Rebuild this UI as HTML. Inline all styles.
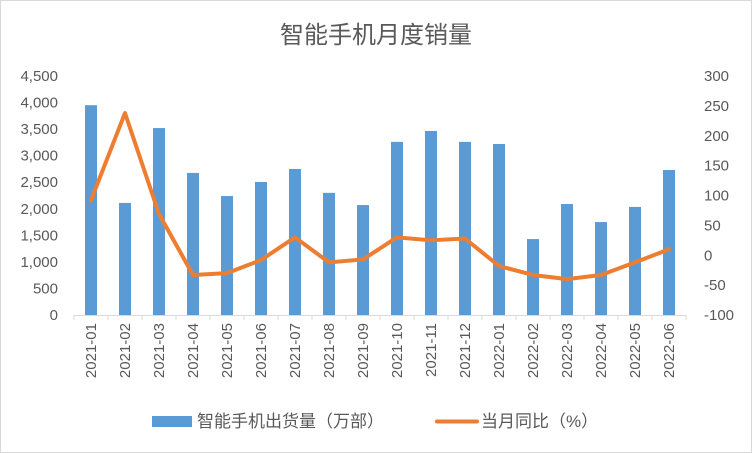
<!DOCTYPE html>
<html><head><meta charset="utf-8"><style>
body{margin:0;background:#fff}
svg{display:block;font-family:"Liberation Sans","Noto Sans CJK SC",sans-serif}
</style></head><body>
<svg id="c" width="752" height="453">
<rect x="0.5" y="0.5" width="751" height="452" fill="#fff" stroke="#d9d9d9"/>
<text x="376" y="43" text-anchor="middle" font-size="24" fill="#595959">智能手机月度销量</text>
<g id="g"></g>
<rect x="152" y="416" width="40" height="11" fill="#5B9BD5"/>
<text x="197" y="427" font-size="17" fill="#595959">智能手机出货量（万部）</text>
<line x1="437" y1="421.5" x2="477" y2="421.5" stroke="#ED7D31" stroke-width="4" stroke-linecap="round"/>
<text x="481" y="427" font-size="17" fill="#595959">当月同比（%）</text>
</svg>
<script>
const categories=["2021-01","2021-02","2021-03","2021-04","2021-05","2021-06","2021-07","2021-08","2021-09","2021-10","2021-11","2021-12","2022-01","2022-02","2022-03","2022-04","2022-05","2022-06"];
const shipments=[3950,2110,3520,2675,2240,2505,2750,2300,2070,3260,3465,3260,3220,1430,2090,1750,2035,2730];
const yoy=[92,238,69,-33,-30,-8,30,-12,-7,30,25,28,-18,-33,-40,-33,-12,10];
const leftTicks=[0,500,1000,1500,2000,2500,3000,3500,4000,4500];
const rightTicks=[-100,-50,0,50,100,150,200,250,300];
const NS="http://www.w3.org/2000/svg";
const g=document.getElementById('g');
const x0=74,x1=686,yTop=76,yBot=315;
const step=(x1-x0)/categories.length;
const xc=i=>x0+step*(i+0.5);
const yL=v=>yBot-(v/4500)*(yBot-yTop);
const yR=v=>yBot-((v+100)/400)*(yBot-yTop);
function mk(t,a){const e=document.createElementNS(NS,t);for(const k in a)e.setAttribute(k,a[k]);g.appendChild(e);return e;}
leftTicks.forEach(v=>{const t=mk('text',{x:58,y:yL(v)+5,'text-anchor':'end','font-size':15,fill:'#595959'});t.textContent=v.toLocaleString('en-US');

});
rightTicks.forEach(v=>{const t=mk('text',{x:704,y:yR(v)+5,'font-size':15,fill:'#595959'});t.textContent=v;

});
shipments.forEach((v,i)=>{const r=mk('rect',{x:xc(i)-6,y:yL(v),width:12,height:yBot-yL(v),fill:'#5B9BD5'});

});
const ax=mk('line',{x1:x0,y1:yBot+0.5,x2:x1,y2:yBot+0.5,stroke:'#d9d9d9'});


for(let i=0;i<=categories.length;i++){const tk=mk('line',{x1:x0+step*i,y1:yBot,x2:x0+step*i,y2:yBot+5,stroke:'#d9d9d9'});

}
categories.forEach((c,i)=>{const t=mk('text',{x:0,y:0,'text-anchor':'end','font-size':15,fill:'#595959',transform:`translate(${xc(i)+5},${yBot+8}) rotate(-90)`});t.textContent=c;

});
const p=mk('polyline',{points:yoy.map((v,i)=>xc(i)+','+yR(v)).join(' '),fill:'none',stroke:'#ED7D31','stroke-width':4,'stroke-linejoin':'round','stroke-linecap':'round'});


</script>
</body></html>
